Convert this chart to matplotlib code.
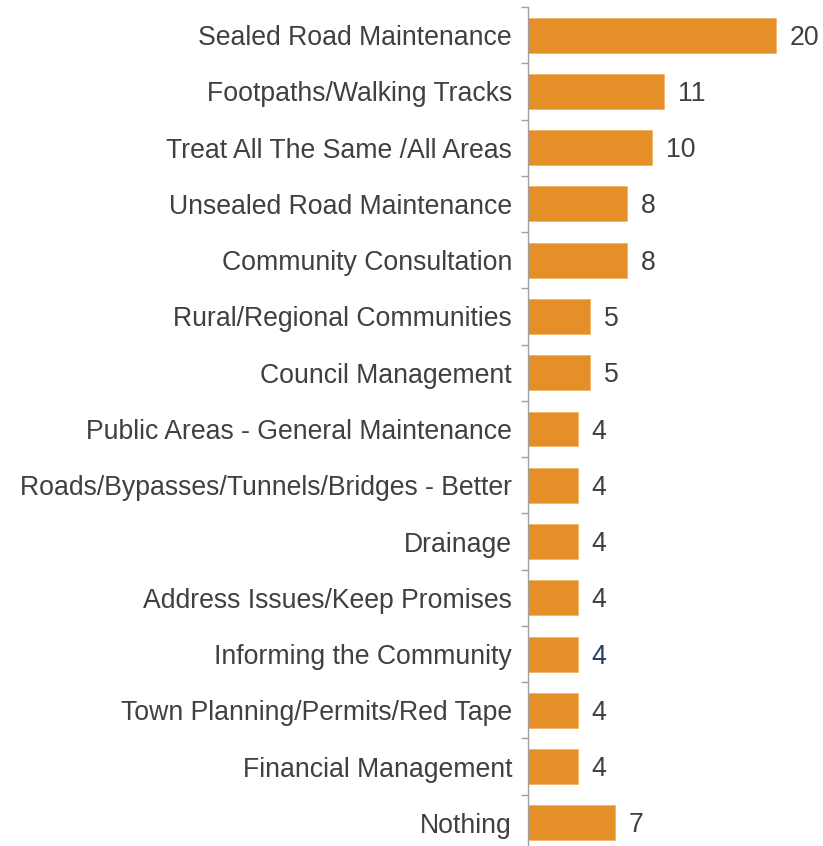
import matplotlib
matplotlib.use("Agg")
import matplotlib.pyplot as plt
import numpy as np

categories = [
    "Sealed Road Maintenance",
    "Footpaths/Walking Tracks",
    "Treat All The Same /All Areas",
    "Unsealed Road Maintenance",
    "Community Consultation",
    "Rural/Regional Communities",
    "Council Management",
    "Public Areas - General Maintenance",
    "Roads/Bypasses/Tunnels/Bridges - Better",
    "Drainage",
    "Address Issues/Keep Promises",
    "Informing the Community",
    "Town Planning/Permits/Red Tape",
    "Financial Management",
    "Nothing",
]
values = [20, 11, 10, 8, 8, 5, 5, 4, 4, 4, 4, 4, 4, 4, 7]
label_colors = ["#404040"] * 11 + ["#1F3F60"] + ["#404040"] * 3

plt.rcParams["font.family"] = ["Liberation Sans", "DejaVu Sans"]

W, H = 823, 846
fig = plt.figure(figsize=(W / 100, H / 100), dpi=100)
ax = fig.add_axes([528 / W, (H - 851) / H, (W - 528) / W, 844 / H])

y = np.arange(len(categories))
ax.barh(y, values, height=0.62, color="#E58F29", edgecolor="#F2B46A", linewidth=0.6)
ax.set_ylim(len(categories) - 0.5, -0.5)
ax.set_xlim(0, 23.8)

for yi, v, c in zip(y, values, label_colors):
    ax.annotate(str(v), (v, yi), xytext=(10, -1.8), textcoords="offset points",
                va="center", ha="left", fontsize=19.2, color=c)

ax.set_yticks(y)
ax.set_yticklabels(categories, fontsize=19.2, color="#404040")
ax.tick_params(axis="y", which="major", length=0, pad=11.5)
ax.set_yticks(np.arange(-0.5, len(categories), 1), minor=True)
ax.tick_params(axis="y", which="minor", length=5, width=1, color="#A0A0A0")
ax.set_xticks([])

for s in ["top", "right", "bottom"]:
    ax.spines[s].set_visible(False)
ax.spines["left"].set_color("#A0A0A0")
ax.spines["left"].set_linewidth(1)

fig.savefig("out.png", dpi=100)
